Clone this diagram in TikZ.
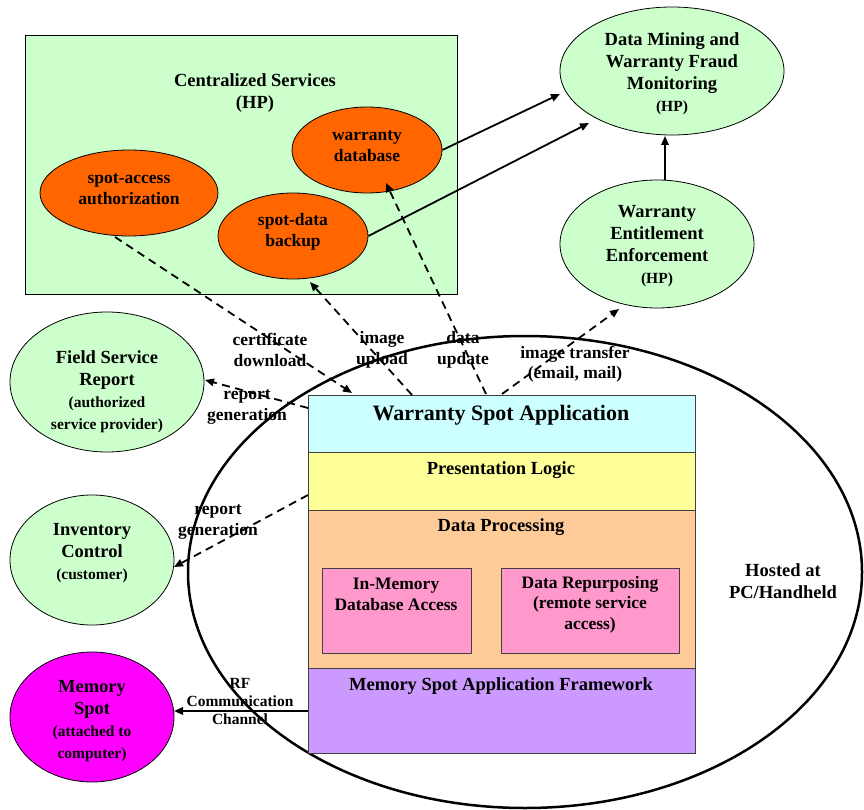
\documentclass[tikz,border=0pt]{standalone}
\usepackage{fontspec}
\setmainfont{Liberation Serif}
\usetikzlibrary{arrows.meta,shapes.geometric}
\newcommand\szXL{\fontsize{22}{25}\selectfont}
\newcommand\szL{\fontsize{18.5}{22}\selectfont}
\newcommand\szM{\fontsize{17.5}{20.5}\selectfont}
\newcommand\szS{\fontsize{15.5}{18}\selectfont}
\definecolor{cgreen}{HTML}{CCFFCC}
\definecolor{corange}{HTML}{FF6600}
\definecolor{ccyan}{HTML}{CCFFFF}
\definecolor{cyellow}{HTML}{FFFF99}
\definecolor{cpeach}{HTML}{FFCC99}
\definecolor{cpink}{HTML}{FF99CC}
\definecolor{clav}{HTML}{CC99FF}
\definecolor{cmag}{HTML}{FF00FF}
\begin{document}
\begin{tikzpicture}[x=1pt,y=-1pt,
  oval/.style={draw,ellipse,line width=0.8pt,inner sep=0pt},
  lay/.style={draw=black!75,line width=0.9pt,minimum width=387pt,inner sep=0pt},
  txt/.style={align=center,inner sep=0pt},
  arr/.style={line width=1.8pt,-{Triangle[length=9pt,width=7.5pt]}},
  dsh/.style={arr,dash pattern=on 8pt off 5.5pt}]
\useasboundingbox (0,0) rectangle (864,810);

% centralized services box
\node[draw,line width=0.9pt,fill=cgreen,minimum width=432pt,minimum height=259pt,inner sep=0pt] (cs) at (241,164.5) {};
\node[txt,font=\bfseries\szL] (cst) at (255,93) {Centralized Services\\(HP)};

% orange ellipses
\node[oval,fill=corange,minimum width=178pt,minimum height=86pt] (saa) at (129,193) {};
\node[txt,font=\bfseries\szM] (saat) at (129,189) {spot-access\\authorization};
\node[oval,fill=corange,minimum width=150pt,minimum height=86pt] (wdb) at (367,150) {};
\node[txt,font=\bfseries\szM] (wdbt) at (367,146) {warranty\\database};
\node[oval,fill=corange,minimum width=150pt,minimum height=86pt] (sdb) at (293,236) {};
\node[txt,font=\bfseries\szM] (sdbt) at (293,232) {spot-data\\backup};

% green ellipses
\node[oval,fill=cgreen,minimum width=224pt,minimum height=128pt] (dm) at (672,71) {};
\node[txt,font=\bfseries\szL] (dmt) at (672,74) {Data Mining and\\Warranty Fraud\\Monitoring\\{\szS (HP)}};
\node[oval,fill=cgreen,minimum width=194pt,minimum height=128pt] (wee) at (657,244) {};
\node[txt,font=\bfseries\szL] (weet) at (657,246) {Warranty\\Entitlement\\Enforcement\\{\szS (HP)}};
\node[oval,fill=cgreen,minimum width=194pt,minimum height=140pt] (fsr) at (107,382) {};
\node[txt,font=\bfseries\szL] (fsrt) at (107,392) {Field Service\\Report\\{\szS (authorized}\\{\szS service provider)}};
\node[oval,fill=cgreen,minimum width=164pt,minimum height=130pt] (inv) at (92,560) {};
\node[txt,font=\bfseries\szL] (invt) at (92,553) {Inventory\\Control\\{\szS (customer)}};
\node[oval,fill=cmag,minimum width=164pt,minimum height=130pt] (ms) at (92,717) {};
\node[txt,font=\bfseries\szL] (mst) at (92,721) {Memory\\Spot\\{\szS (attached to}\\{\szS computer)}};

% host ellipse
\node[draw,ellipse,line width=2.5pt,minimum width=674pt,minimum height=472pt,inner sep=0pt] (host) at (525,572) {};
\node[txt,font=\bfseries\szL] (hostt) at (783,581) {Hosted at\\PC/Handheld};

% layers
\node[lay,fill=ccyan,minimum height=57pt] (wsa) at (501.5,423.5) {};
\node[txt,font=\bfseries\szXL] (wsat) at (501,415) {Warranty Spot Application};
\node[lay,fill=cyellow,minimum height=58pt] (pl) at (501.5,481) {};
\node[txt,font=\bfseries\szL] (plt) at (501,470) {Presentation Logic};
\node[lay,fill=cpeach,minimum height=158pt] (dp) at (501.5,589) {};
\node[txt,font=\bfseries\szL] (dpt) at (501,527) {Data Processing};
\node[draw=black!75,line width=0.9pt,fill=cpink,minimum width=149pt,minimum height=85pt,inner sep=0pt] (im) at (396.5,610.5) {};
\node[txt,font=\bfseries\szM] (imt) at (396,594.5) {In-Memory\\Database Access};
\node[draw=black!75,line width=0.9pt,fill=cpink,minimum width=178pt,minimum height=85pt,inner sep=0pt] (dr) at (590,610.5) {};
\node[txt,font=\bfseries\szM] (drt) at (590,604.5) {Data Repurposing\\(remote service\\access)};
\node[lay,fill=clav,minimum height=85pt] (msaf) at (501.5,710.5) {};
\node[txt,font=\bfseries\szL] (msaft) at (501,686) {Memory Spot Application Framework};

% coordinates
\coordinate (dmA) at (560,94);
\coordinate (dmB) at (589,123);
\coordinate (weeN) at (665,180);
\coordinate (dmS) at (665,136);
\coordinate (saaS) at (115,237);
\coordinate (appA) at (352,393);
\coordinate (appB) at (412,395);
\coordinate (sdbS) at (310,282);
\coordinate (appC) at (486,394);
\coordinate (wdbS) at (386,183);
\coordinate (appD) at (502,394);
\coordinate (weeS) at (619,309);
\coordinate (appE) at (308,408);
\coordinate (fsrE) at (205,380);
\coordinate (plW) at (308,495);
\coordinate (invE) at (174,567);
\coordinate (msafW) at (308,711);
\coordinate (msE) at (174,711);

% connectors
\draw[arr] (wdb.east) -- (dmA);
\draw[arr] (sdb.east) -- (dmB);
\draw[arr] (weeN) -- (dmS);
\draw[dsh] (saaS) -- (appA);
\draw[dsh] (appB) -- (sdbS);
\draw[dsh] (appC) -- (wdbS);
\draw[dsh] (appD) -- (weeS);
\draw[dsh] (appE) -- (fsrE);
\draw[dsh] (plW) -- (invE);
\draw[arr] (msafW) -- (msE);

% labels
\node[txt,font=\bfseries\szM] (lcd) at (270,350) {certificate\\download};
\node[txt,font=\bfseries\szM] (liu) at (382,350) {image\\upload};
\node[txt,font=\bfseries\szM] (ldu) at (463,350) {data\\update};
\node[txt,font=\bfseries\szM] (lit) at (575,364) {image transfer\\(email, mail)};
\node[txt,font=\bfseries\szM] (lrg1) at (247,407) {report\\generation};
\node[txt,font=\bfseries\szM] (lrg2) at (218,522) {report\\generation};
\node[txt,font=\bfseries\szS] (lrf) at (240,701) {RF\\Communication\\Channel};
\end{tikzpicture}
\end{document}
